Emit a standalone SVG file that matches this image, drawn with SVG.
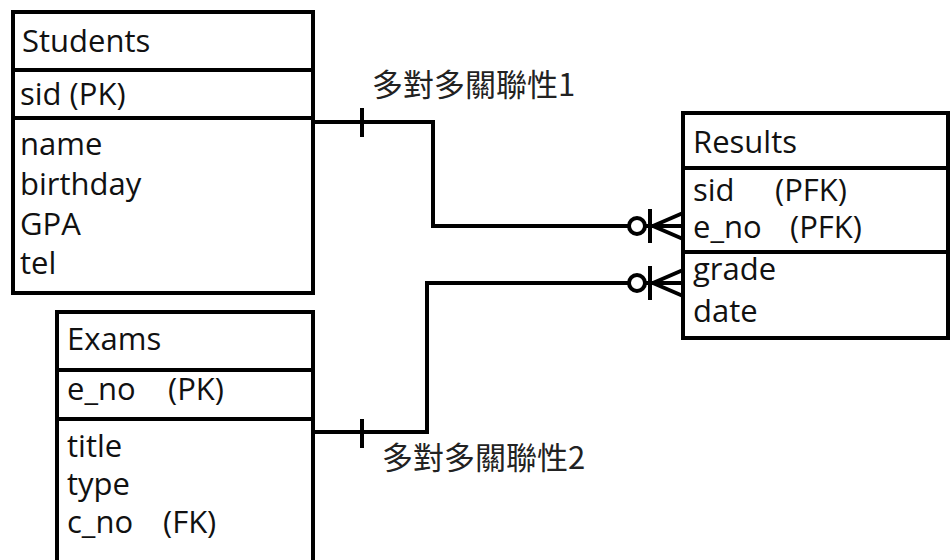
<svg xmlns="http://www.w3.org/2000/svg" width="950" height="560" viewBox="0 0 950 560">
<style>
.box{fill:#fff;stroke:#000;stroke-width:4}
.div{stroke:#000;stroke-width:4}
.t{font-family:"Open Sans","Noto Sans CJK TC",sans-serif;font-size:31px;fill:#111}
.lbl{font-family:"Noto Sans CJK TC","Open Sans",sans-serif;font-size:31px;fill:#222}
.ln{fill:none;stroke:#000;stroke-width:4}
.circ{fill:#fff;stroke:#000;stroke-width:4}
</style>
<defs>
<g id="crow">
<line class="ln" x1="0" y1="-13" x2="-30" y2="0"/>
<line class="ln" x1="0" y1="13" x2="-30" y2="0"/>
<line class="ln" x1="-33" y1="-17" x2="-33" y2="17"/>
<circle class="circ" cx="-46" cy="0" r="8"/>
</g>
</defs>
<g id="connectors">
<path class="ln" d="M313,122 H433 V226 H683"/>
<line class="ln" x1="362" y1="108" x2="362" y2="137"/>
<use href="#crow" transform="translate(683,226)"/>
<path class="ln" d="M313,432 H427 V283 H683"/>
<line class="ln" x1="362" y1="419" x2="362" y2="448"/>
<use href="#crow" transform="translate(683,283)"/>
<text class="lbl" x="372" y="96">多對多關聯性1</text>
<text class="lbl" x="382" y="469">多對多關聯性2</text>
</g>
<g id="students">
<rect class="box" x="13" y="12" width="300" height="281"/>
<line class="div" x1="13" y1="70" x2="313" y2="70"/>
<line class="div" x1="13" y1="118" x2="313" y2="118"/>
<text class="t" x="22" y="52">Students</text>
<text class="t" x="20" y="105">sid (PK)</text>
<text class="t" x="20" y="155">name</text>
<text class="t" x="20" y="195">birthday</text>
<text class="t" x="20" y="235">GPA</text>
<text class="t" x="20" y="274">tel</text>
</g>
<g id="results">
<rect class="box" x="683" y="113" width="265" height="225"/>
<line class="div" x1="683" y1="168" x2="948" y2="168"/>
<line class="div" x1="683" y1="252" x2="948" y2="252"/>
<text class="t" x="693" y="153">Results</text>
<text class="t" x="693" y="201">sid</text>
<text class="t" x="775" y="201">(PFK)</text>
<text class="t" x="693" y="238">e_no</text>
<text class="t" x="790" y="238">(PFK)</text>
<text class="t" x="693" y="280">grade</text>
<text class="t" x="693" y="322">date</text>
</g>
<g id="exams">
<path class="box" d="M57,565 V312 H313 V565"/>
<line class="div" x1="57" y1="370" x2="313" y2="370"/>
<line class="div" x1="57" y1="419" x2="313" y2="419"/>
<text class="t" x="67" y="350">Exams</text>
<text class="t" x="67" y="400">e_no</text>
<text class="t" x="168" y="400">(PK)</text>
<text class="t" x="67" y="457">title</text>
<text class="t" x="67" y="495">type</text>
<text class="t" x="67" y="533">c_no</text>
<text class="t" x="163" y="533">(FK)</text>
</g>
</svg>
